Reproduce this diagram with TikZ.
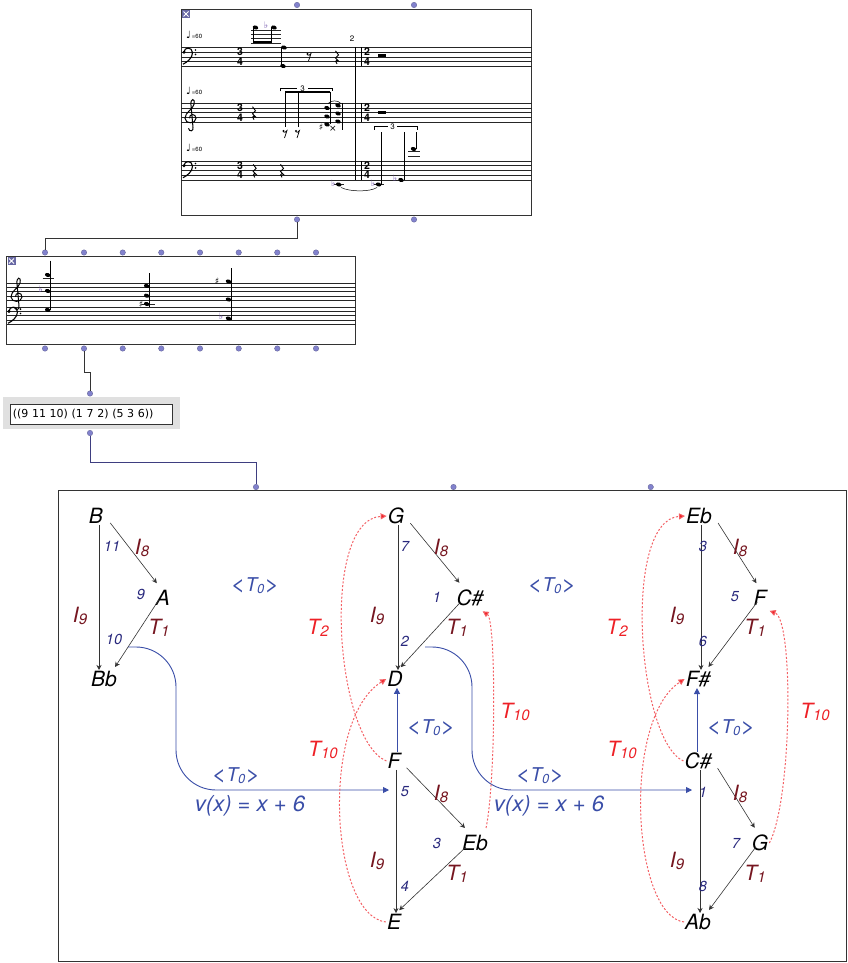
\documentclass[tikz,border=0pt]{standalone}
\usepackage{fontspec}
\setmainfont{TeX Gyre Heros}
\newfontfamily\symfont{DejaVu Sans}
\usetikzlibrary{positioning,arrows.meta,calc}

\definecolor{tzero}{RGB}{58,78,168}
\definecolor{numblue}{RGB}{40,40,125}
\definecolor{opred}{RGB}{118,22,32}
\definecolor{tred}{RGB}{238,32,38}
\definecolor{dotred}{RGB}{244,96,100}
\definecolor{inletblue}{RGB}{130,130,205}
\definecolor{wireblue}{RGB}{62,62,128}
\definecolor{accpurple}{RGB}{110,80,170}

% operator with lowered index
\newcommand{\op}[3][14]{#2\raisebox{-0.22ex}{\fontsize{#1}{#1}\selectfont #3}}
% wide angle brackets round an operator
\newcommand{\angl}[1]{\scalebox{1.35}[1.1]{<}#1\scalebox{1.35}[1.1]{>}}

\begin{document}
\begin{tikzpicture}[x=1pt, y=-1pt,
    pc/.style={font=\fontsize{21}{21}\selectfont\itshape, inner sep=1pt},
    num/.style={font=\fontsize{14.5}{14.5}\selectfont\itshape, text=numblue, inner sep=0pt},
    oplbl/.style={font=\fontsize{21}{21}\selectfont\itshape, text=opred, inner sep=0pt},
    tlbl/.style={font=\fontsize{21}{21}\selectfont\itshape, text=tred, inner sep=0pt},
    tzlbl/.style={font=\fontsize{19}{19}\selectfont\itshape, text=tzero, inner sep=0pt},
    arr/.style={-{Stealth[length=5pt,width=5pt]}, line width=0.6pt, black!80},
    tarr/.style={dotred, line width=1pt, dash pattern=on 2pt off 1.8pt,
        -{Triangle[length=6pt,width=6pt,fill=tred]}},
    bluearr/.style={tzero, line width=0.9pt, -{Triangle[length=6pt,width=6pt]}},
    patchbox/.style={draw=black!80, line width=0.8pt, fill=white},
    inlet/.style={circle, fill=inletblue, draw=inletblue!70!black, line width=0.3pt, inner sep=0pt, minimum size=5.5pt},
    wire/.style={line width=0.8pt, wireblue},
    staffline/.style={line width=0.5pt, black!85},
    tempo/.style={font=\fontsize{6}{6}\selectfont, inner sep=0pt},
    tsdigit/.style={font=\fontsize{10.5}{10.5}\selectfont\bfseries, inner sep=0pt},
    acc/.style={font=\symfont\fontsize{9}{9}\selectfont, inner sep=0pt},
    gclef/.pic={
        \draw[line width=1pt] (-2.5,11) .. controls (-2,15) and (3,14) .. (2,10)
            -- (0,-12) .. controls (-1,-19) and (4.5,-20) .. (3,-13)
            .. controls (2,-8) and (-6,-5) .. (-6,1)
            .. controls (-6,7) and (5,7) .. (5,1)
            .. controls (5,-4) and (-2,-4) .. (-1.5,1);
    },
    fclef/.pic={
        \fill (-3,0) circle (1.7);
        \draw[line width=1.1pt] (-3,0) .. controls (-3,-5.5) and (5.5,-5.5) .. (5.5,0.5)
            .. controls (5.5,6) and (0,10) .. (-4,12);
        \fill (8.5,-2.2) circle (0.9);
        \fill (8.5,2.2) circle (0.9);
    },
    qrest/.pic={
        \draw[line width=0.9pt] (-1.5,-6) -- (1.5,-2) -- (-1.5,1) -- (1.5,4)
            .. controls (-2,2) and (-2,6) .. (0,7);
    },
    erest/.pic={
        \fill (-1.5,-2) circle (1.2);
        \draw[line width=0.7pt] (-1.5,-1) .. controls (0,-0.5) .. (2,-2.5) -- (-0.5,5);
    }
]
\useasboundingbox (0,0) rectangle (847,963);

%% ---------------- score (top patch) ----------------
\draw[patchbox] (181,9) rectangle (531.5,215);
\node[inlet] (i1a) at (297,5) {};
\node[inlet] (i1b) at (414,5) {};
\node[inlet] (o1a) at (297,219.5) {};
\node[inlet] (o1b) at (414,219.5) {};
\fill[inletblue!80!black] (182,10) rectangle (190,18);
\draw[white, line width=0.9pt] (183.5,11.5) -- (188.5,16.5) (183.5,16.5) -- (188.5,11.5);

\foreach \y in {47.5,52.2,56.9,61.6,66.3} \draw[staffline] (181,\y) -- (531.5,\y);
\foreach \y in {103.5,108.1,112.7,117.3,121.9} \draw[staffline] (181,\y) -- (531.5,\y);
\foreach \y in {161,165.7,170.4,175.1,179.8} \draw[staffline] (181,\y) -- (531.5,\y);

\pic at (187,52.2) {fclef};
\pic at (191,117.3) {gclef};
\pic at (187,165.7) {fclef};
\foreach \y/\n in {35/ta, 91/tb, 148/tc}
    \node[tempo, anchor=west] (\n) at (186,\y) {{\symfont\fontsize{10}{10}\selectfont ♩}\,=60};

\foreach \y/\n in {56.9/tsa, 112.7/tsb, 170.4/tsc} {
    \node[tsdigit] (\n u) at (240,\y-4.7) {3};
    \node[tsdigit] (\n l) at (240,\y+4.7) {4};
    \node[tsdigit] (\n v) at (367,\y-4.7) {2};
    \node[tsdigit] (\n w) at (367,\y+4.7) {4};
}
\node[font=\fontsize{8}{8}\selectfont, inner sep=0pt] (mnum) at (352,39) {2};
\draw[line width=0.8pt] (355.5,47.5) -- (355.5,179.8);
\draw[line width=0.8pt] (361,47.5) -- (361,66.3) (361,103.5) -- (361,121.9) (361,161) -- (361,179.8);

% staff 1
\foreach \y in {29.9,34.3,38.7,43.1} \draw[staffline] (251,\y) -- (281,\y);
\fill[rotate around={-20:(255.5,27.5)}] (255.5,27.5) ellipse (2.8 and 2);
\fill[rotate around={-20:(274,27.5)}] (274,27.5) ellipse (2.8 and 2);
\draw[line width=0.6pt] (253,27.5) -- (253,43.5) (271.5,27.5) -- (271.5,43.5);
\draw[line width=2pt] (253,42.5) -- (271.5,42.5);
\node[acc, text=accpurple] (fl1) at (266,25) {♭};
\fill[rotate around={-20:(284,47.5)}] (284,47.5) ellipse (2.8 and 2);
\fill[rotate around={-20:(283,66)}] (283,66) ellipse (2.8 and 2);
\draw[line width=0.6pt] (281.3,47.5) -- (281.3,66);
\pic at (309,56) {erest};
\pic at (337,56.9) {qrest};
\fill (378,54.5) rectangle (386,57);

% staff 2
\pic at (254,112.7) {qrest};
\draw[line width=0.5pt] (280.7,91.5) -- (280.7,88.3) -- (297,88.3) (308,88.3) -- (332,88.3) -- (332,91.5);
\node[font=\fontsize{8}{8}\selectfont, inner sep=0pt] (tup1) at (302.5,88.3) {3};
\draw[line width=0.6pt] (285.3,91.7) -- (285.3,127) (298,91.7) -- (298,127) (330,91.7) -- (330,124) (342,103) -- (342,130);
\draw[line width=2pt] (285.3,92.5) -- (330,92.5);
\pic at (285,133) {erest};
\pic at (297.5,133) {erest};
\foreach \x/\y in {327/108,327/116.5,327/124.5,338/105.5,338/113.5,338/121.5}
    \fill[rotate around={-20:(\x,\y)}] (\x,\y) ellipse (2.8 and 2);
\node[acc] (sh1) at (321,127.5) {♯};
\node[acc] (sh2) at (333,128.5) {×};
\draw[line width=0.5pt] (328,103.5) .. controls (331,100) and (338,100) .. (341,103.5);
\fill (378,111.3) rectangle (386,114);

% staff 3
\pic at (254.7,170.4) {qrest};
\pic at (282,170.4) {qrest};
\foreach \x in {338.7,378.5} {
    \draw[staffline] (\x-5,184.5) -- (\x+5,184.5);
    \fill[rotate around={-20:(\x,184.5)}] (\x,184.5) ellipse (2.8 and 2);
    \node[acc, text=accpurple] at (\x-5.5,183) {♭};
}
\fill[rotate around={-20:(401,180)}] (401,180) ellipse (2.8 and 2);
\node[acc, text=accpurple] (fl4) at (395,178.5) {♭};
\draw[line width=0.5pt] (341,187.5) .. controls (350,192) and (370,192) .. (377,187.5);
\foreach \y in {151.7,156.4} \draw[staffline] (408,\y) -- (420,\y);
\fill[rotate around={-20:(413.5,149)}] (413.5,149) ellipse (2.8 and 2);
\draw[line width=0.6pt] (381.3,184.5) -- (381.3,131.7) (403.8,180) -- (403.8,131.7) (416.3,149) -- (416.3,131.7);
\draw[line width=0.5pt] (374,130) -- (374,126.7) -- (388,126.7) (397,126.7) -- (417,126.7) -- (417,130);
\node[font=\fontsize{8}{8}\selectfont, inner sep=0pt] (tup2) at (392.5,126.7) {3};

%% ---------------- chord seq (second patch) ----------------
\draw[patchbox] (6.5,256) rectangle (355.5,344);
\foreach \x [count=\k] in {45,84,122.7,161.3,200,238.7,277.3,316} {
    \node[inlet] (i2\k) at (\x,252.5) {};
    \node[inlet] (o2\k) at (\x,348.5) {};
}
\fill[inletblue!80!black] (7.5,257) rectangle (15.5,265);
\draw[white, line width=0.9pt] (9,258.5) -- (14,263.5) (9,263.5) -- (14,258.5);
\foreach \y in {283,287.3,291.6,295.9,300.2} \draw[staffline] (6.5,\y) -- (355.5,\y);
\foreach \y in {307,311.3,315.6,319.9,324.2} \draw[staffline] (6.5,\y) -- (355.5,\y);
\pic at (17,295.9) {gclef};
\pic at (12,311.3) {fclef};
% chord 1
\draw[staffline] (42.5,278.7) -- (53.5,278.7);
\foreach \y in {275,291,310} \fill[rotate around={-20:(47.7,\y)}] (47.7,\y) ellipse (2.8 and 2);
\draw[line width=0.6pt] (50.4,260.7) -- (50.4,310);
\node[acc, text=accpurple] (fl5) at (40.5,289.5) {♭};
% chord 2
\draw[staffline] (141.5,304.5) -- (155,304.5);
\foreach \y in {286,295.7,304} \fill[rotate around={-20:(146.7,\y)}] (146.7,\y) ellipse (2.8 and 2);
\draw[line width=0.6pt] (149.4,273) -- (149.4,307);
\node[acc] (sh3) at (141,304.5) {♯};
% chord 3
\foreach \y in {281.5,299.5,318.5} \fill[rotate around={-20:(228.5,\y)}] (228.5,\y) ellipse (2.8 and 2);
\draw[line width=0.6pt] (231.2,268) -- (231.2,320);
\node[acc] (sh4) at (217,281) {♯};
\node[acc, text=accpurple] (fl6) at (221,316.5) {♭};

%% ---------------- list box ----------------
\fill[black!12] (3,397) rectangle (180,429);
\node[draw=black!80, line width=0.7pt, fill=white, minimum width=162pt, minimum height=20pt,
      anchor=north west, inner sep=2pt, text width=156pt, font=\symfont\fontsize{11}{12}\selectfont] (lst)
      at (9.5,403.5) {((9 11 10) (1 7 2) (5 3 6))};
\node[inlet] (i3) at (90,393.5) {};
\node[inlet] (o3) at (90,433) {};

%% ---------------- big patch ----------------
\draw[patchbox, line width=0.9pt] (58.7,490.7) rectangle (846,961.5);
\node[inlet] (i4a) at (256,487) {};
\node[inlet] (i4b) at (453.5,487) {};
\node[inlet] (i4c) at (650.7,487) {};

% wires
\draw[wire, black!80] (o1a.south) -- ++(0,16) -| (i21.north);
\draw[wire, black!80] (o22.south) -- ++(0,21) -| (i3.north);
\draw[wire] (o3.south) -- ++(0,26) -| (i4a.north);

%% ---------------- pitch-class networks ----------------
\node[pc] (B)   at (96,516)  {B};
\node[pc] (A)   at (163,598) {A};
\node[pc] (Bb)  at (104,679) {Bb};
\node[pc] (G)   at (396,516) {G};
\node[pc] (Cs)  at (470,598) {C\#};
\node[pc] (D)   at (395,679) {D};
\node[pc] (F)   at (394,761) {F};
\node[pc] (Eb)  at (475,843) {Eb};
\node[pc] (E)   at (394,922) {E};
\node[pc] (Eb2) at (699,516) {Eb};
\node[pc] (F2)  at (760,598) {F};
\node[pc] (Fs)  at (698,679) {F\#};
\node[pc] (Cs2) at (698,761) {C\#};
\node[pc] (G2)  at (760,843) {G};
\node[pc] (Ab)  at (698,922) {Ab};

% black transformation arrows
\draw[arr] ([xshift=3]B.south) -- ([xshift=-5]Bb.north);
\draw[arr] ([shift={(6,-2)}]B.south east) -- ([shift={(2,-6)}]A.north west);
\draw[arr] ([shift={(4,-7)}]A.south west) -- ([shift={(-3,-3)}]Bb.north east);
\foreach \t/\m/\b in {G/Cs/D, F/Eb/E, Eb2/F2/Fs, Cs2/G2/Ab} {
    \draw[arr] ([xshift=2]\t.south |- \t.south) -- ([xshift=2]\t.south |- \b.north);
    \draw[arr] ([shift={(5,-2)}]\t.south east) -- ([shift={(4,-6)}]\m.north west);
    \draw[arr] ([shift={(5,-5)}]\m.south west) -- ([shift={(-3,-3)}]\b.north east);
}

% numbers
\foreach \x/\y/\n/\k in {112/546/11/na, 141/594/9/nb, 114/639/10/nc,
        405/546/7/nd, 437/597/1/ne, 405/641/2/nf,
        405/792/5/ng, 437/843/3/nh, 405/886/4/ni,
        703/546/3/nj, 735/597/5/nk, 703/641/6/nl,
        703/792/1/nm, 736/843/7/nn, 703/886/8/no}
    \node[num] (\k) at (\x,\y) {\n};

% operator labels
\foreach \x/\y/\k in {142/548/ia, 441/548/ib, 441/794/ic, 740/548/id, 740/794/ie}
    \node[oplbl] (\k) at (\x,\y) {\op[15]{I}{8}};
\foreach \x/\y/\k in {80/616/ja, 377/616/jb, 377/861/jc, 677/616/jd, 677/861/je}
    \node[oplbl] (\k) at (\x,\y) {\op[15]{I}{9}};
\foreach \x/\y/\k in {159/628/ka, 457/628/kb, 457/874/kc, 755/628/kd, 755/874/ke}
    \node[oplbl] (\k) at (\x,\y) {\op[15]{T}{1}};

% T0 labels
\foreach \x/\y/\k in {255/586/za, 552/586/zb, 431/728/zc, 731/728/zd, 236/776/ze, 540/776/zf}
    \node[tzlbl] (\k) at (\x,\y) {\angl{\op[13]{T}{0}}};
\node[tzlbl, font=\fontsize{22}{22}\selectfont\itshape] (va) at (250,806) {v(x) = x + 6};
\node[tzlbl, font=\fontsize{22}{22}\selectfont\itshape] (vb) at (549,806) {v(x) = x + 6};

% blue connectors
\coordinate (v1s) at (128,647);
\coordinate (v1e) at (389,790);
\coordinate (v2s) at (425,647);
\coordinate (v2e) at (692,790);
\draw[bluearr] (v1s) [rounded corners=40] -| (176,790) [rounded corners=0] -- (v1e);
\draw[bluearr] (v2s) [rounded corners=40] -| (472,790) [rounded corners=0] -- (v2e);
\draw[bluearr] ([xshift=3]F.north) -- ([xshift=3]F.north |- D.south);
\draw[bluearr] ([xshift=-1]Cs2.north) -- ([xshift=-1]Cs2.north |- Fs.south);

% red T arrows
\draw[tarr] (F.west) .. controls (335,740) and (320,520) .. (G.west);
\draw[tarr] (E.west) .. controls (330,915) and (320,720) .. (D.west);
\draw[tarr] ([shift={(-3,-6)}]Eb.north east) .. controls (496,780) and (496,620) .. ([shift={(-2,4)}]Cs.south east);
\draw[tarr] (Cs2.west) .. controls (637,740) and (622,520) .. (Eb2.west);
\draw[tarr] (Ab.west) .. controls (632,915) and (622,720) .. (Fs.west);
\draw[tarr] (G2.east) .. controls (792,800) and (794,620) .. ([shift={(2,4)}]F2.south east);

\node[tlbl] (r1) at (318,628) {\op[15]{T}{2}};
\node[tlbl] (r2) at (323,750) {\op[15]{T}{10}};
\node[tlbl] (r3) at (515,712) {\op[15]{T}{10}};
\node[tlbl] (r4) at (617,628) {\op[15]{T}{2}};
\node[tlbl] (r5) at (622,750) {\op[15]{T}{10}};
\node[tlbl] (r6) at (815,712) {\op[15]{T}{10}};
\end{tikzpicture}
\end{document}
